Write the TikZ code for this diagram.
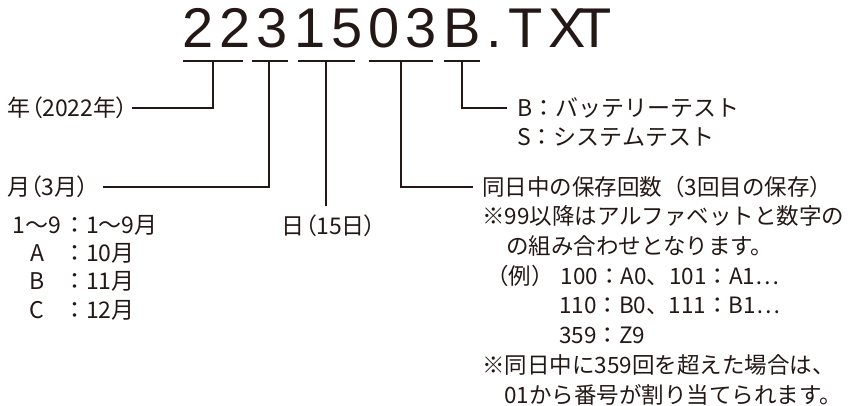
\documentclass[tikz,border=0pt]{standalone}
\usepackage{fontspec}
\setmainfont{Noto Sans CJK JP}
\newfontfamily\paltfont[RawFeature=+palt]{Noto Sans CJK JP}
\newfontfamily\fnamefont[LetterSpace=11]{Liberation Sans}
\usepackage{tikz}
\usetikzlibrary{positioning, calc}
\usepackage{xcolor}
\definecolor{ink}{HTML}{231815}

\begin{document}
\begin{tikzpicture}[
        x=1pt, y=-1pt,
        fname/.style={inner sep=0pt, text=ink, font=\fnamefont\fontsize{56}{56}\selectfont},
        note/.style={inner sep=0pt, text=ink, align=left, font=\fontsize{23}{29.7}\selectfont},
        tight/.style={note, font=\paltfont\fontsize{23}{29.7}\selectfont},
        bar/.style={draw=ink, line width=1.7pt},
        lead/.style={draw=ink, line width=2pt}
    ]
        \useasboundingbox (0,0) rectangle (850,406);
        \node[fname, anchor=base west] (fn) at (182,48) {2231503B.TX\kern-9pt T};
        % one bar per field, the leads start in their middle
        \coordinate (yr) at (213,61);
        \coordinate (mo) at (269,61);
        \coordinate (dy) at (326,61);
        \coordinate (ct) at (401,61);
        \coordinate (kd) at (462,61);
        \draw[bar] ([xshift=-30pt]yr) -- ([xshift=30pt]yr);
        \draw[bar] ([xshift=-17pt]mo) -- ([xshift=19pt]mo);
        \draw[bar] ([xshift=-28pt]dy) -- ([xshift=29pt]dy);
        \draw[bar] ([xshift=-32pt]ct) -- ([xshift=32pt]ct);
        \draw[bar] ([xshift=-18pt]kd) -- ([xshift=18pt]kd);
        % labels (base of a multi-line node = its last line)
        \node[tight, anchor=east] (yrlbl) at (128,108) {年（2022年）};
        \node[tight, anchor=west] (molbl) at (7,187) {月（3月）};
        \node[note, anchor=base west, font=\fontsize{23}{28.3}\selectfont] (motab) at (11,318)
            {\makebox[52pt]{1〜9}：1〜9月\\\makebox[52pt]{A}：10月\\\makebox[52pt]{B}：11月\\\makebox[52pt]{C}：12月};
        \node[tight] (dylbl) at (329,226) {日（15日）};
        \node[note, anchor=base west] (kdlbl) at (517,146) {B：バッテリーテスト\\S：システムテスト};
        \node[note, anchor=base west, font=\fontsize{22.5}{29.7}\selectfont] (ctlbl) at (482,403)
            {同日中の保存回数（3回目の保存）\\
             ※99以降はアルファベットと数字の\\
             \hspace*{24pt}の組み合わせとなります。\\
             \hspace*{4pt}（例）\hspace{7pt}100：A0、101：A1…\\
             \hspace*{77pt}110：B0、111：B1…\\
             \hspace*{77pt}359：Z9\\
             ※同日中に359回を超えた場合は、\\
             \hspace*{22pt}01から番号が割り当てられます。};
        \coordinate (kdend) at (507,108);
        \coordinate (ctend) at (473,187);
        \path (dy |- dylbl.north) coordinate (dytop);
        \draw[lead] (yr) |- ([xshift=4pt]yrlbl.east);
        \draw[lead] (mo) |- ([xshift=14pt]molbl.east);
        \draw[lead] (dy) -- ([yshift=9pt]dytop);
        \draw[lead] (ct) |- (ctend);
        \draw[lead] (kd) |- (kdend);
    \end{tikzpicture}
\end{document}
